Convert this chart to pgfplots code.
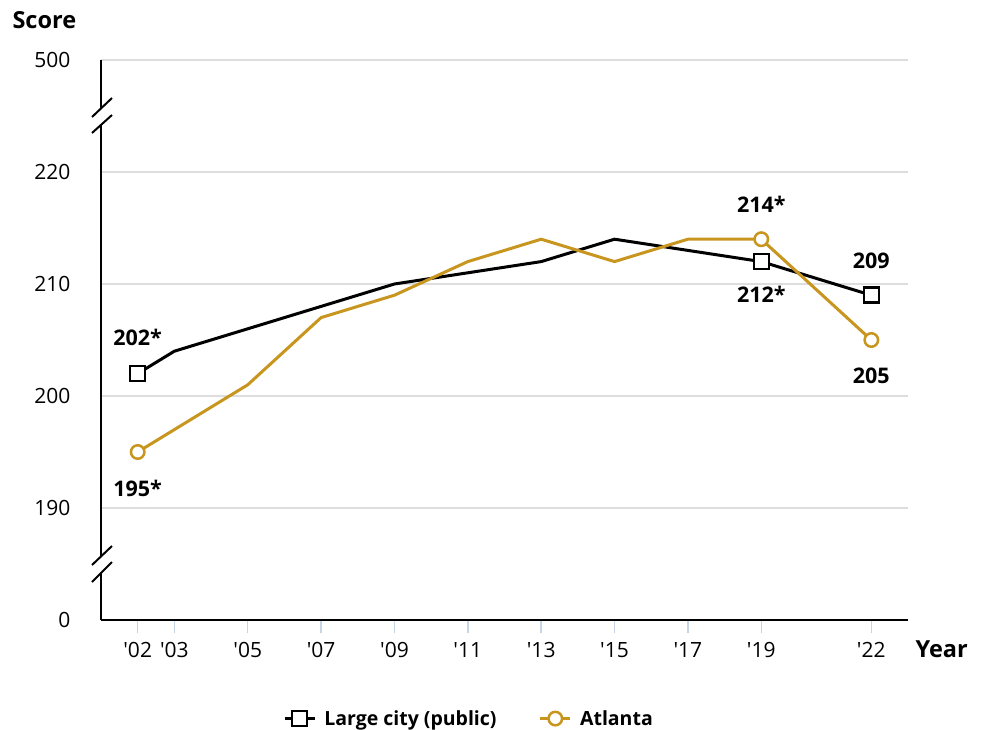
\documentclass[border=0pt]{standalone}
\usepackage{fontspec}
\setmainfont{Open Sans}[Ligatures=TeXOff]
\usepackage{pgfplots}
\pgfplotsset{compat=1.18}
\definecolor{gold}{HTML}{C8961E}
\definecolor{gridgray}{HTML}{DDDDDD}
\definecolor{ticklb}{HTML}{C8D4E8}
\begin{document}
\begin{tikzpicture}[x=1pt,y=1pt]
\path[use as bounding box] (0,0) rectangle (992,729);
\begin{axis}[
  at={(101pt,109pt)}, anchor=south west,
  scale only axis, width=807pt, height=560pt,
  xmin=2001, xmax=2023, ymin=180, ymax=230,
  clip=false,
  axis x line*=bottom, axis y line*=left,
  axis line style={line width=2pt, -},
  xtick={2002,2003,2005,2007,2009,2011,2013,2015,2017,2019,2022},
  xticklabels={'02,'03,'05,'07,'09,'11,'13,'15,'17,'19,'22},
  ytick={180,190,200,210,220,230},
  yticklabels={0,190,200,210,220,500},
  tick align=inside, major tick length=12pt,
  xtick style={draw=ticklb, line width=1.5pt, yshift=-13pt},
  ytick style={draw=none},
  ymajorgrids, grid style={gridgray, line width=1.2pt},
  tick label style={font=\fontsize{21}{24}\selectfont},
  xticklabel style={yshift=-19pt},
  yticklabel style={xshift=-27pt},
  legend style={at={(axis description cs:0.225,-0.176)}, anchor=west,
    draw=none, fill=none, inner sep=0pt, legend columns=2,
    font=\bfseries\fontsize{19.5}{22}\selectfont,
    /tikz/every odd column/.append style={column sep=6pt},
    /tikz/every even column/.append style={column sep=40pt}},
  legend image code/.code={%
    \draw[#1, mark=none, line width=3.5pt] (0pt,0pt) -- (30pt,0pt);
    \draw[#1, only marks] plot coordinates {(15pt,0pt)};},
]
\addplot[black, line width=3pt, mark=square*, mark indices={1,10,11},
  mark size=7.5pt, mark options={fill=white, draw=black, line width=2.5pt}]
  coordinates {(2002,202) (2003,204) (2005,206) (2007,208) (2009,210) (2011,211)
    (2013,212) (2015,214) (2017,213) (2019,212) (2022,209)};
\addlegendentry{Large city (public)}
\addplot[gold, line width=3pt, mark=*, mark indices={1,10,11},
  mark size=6.75pt, mark options={fill=white, draw=gold, line width=2.5pt}]
  coordinates {(2002,195) (2003,197) (2005,201) (2007,207) (2009,209) (2011,212)
    (2013,214) (2015,212) (2017,214) (2019,214) (2022,205)};
\addlegendentry{Atlanta}
\begin{scope}[font=\bfseries\fontsize{21.5}{24}\selectfont]
\node at (axis cs:2002,202) [yshift=36pt] {202*};
\node at (axis cs:2002,195) [yshift=-36pt] {195*};
\node at (axis cs:2019,214) [yshift=35pt] {214*};
\node at (axis cs:2019,212) [yshift=-33pt] {212*};
\node at (axis cs:2022,209) [yshift=34pt] {209};
\node at (axis cs:2022,205) [yshift=-36pt] {205};
\end{scope}
\end{axis}
% axis breaks
\fill[white] (92,596) -- (112,614) -- (112,631) -- (92,612) -- cycle;
\draw[line width=2pt] (92,596) -- (112,614) (92,612) -- (112,631);
\fill[white] (92,147) -- (112,167) -- (112,183) -- (92,164) -- cycle;
\draw[line width=2pt] (92,147) -- (112,167) (92,164) -- (112,183);
\node[font=\bfseries\fontsize{23.5}{27}\selectfont, anchor=west] at (9,709) {Score};
\node[font=\bfseries\fontsize{23.5}{27}\selectfont, anchor=west] at (912,80) {Year};
\end{tikzpicture}
\end{document}
